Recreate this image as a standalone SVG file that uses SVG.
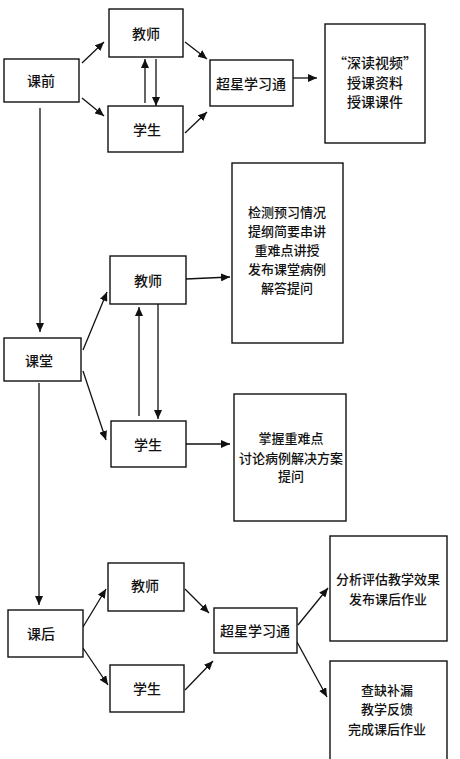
<svg xmlns="http://www.w3.org/2000/svg" width="460" height="759" viewBox="0 0 460 759">
<style>
.b{fill:#fff;stroke:#111;stroke-width:1.4}
.t{font-family:"Noto Sans CJK SC","Noto Sans",sans-serif;font-size:14px;font-weight:500;fill:#111;text-anchor:middle;dominant-baseline:central}
.s{font-size:13px}
.c{stroke:#111;stroke-width:1.3;fill:none}
</style>
<defs>
<marker id="a" markerUnits="userSpaceOnUse" markerWidth="10" markerHeight="8" refX="9" refY="4" orient="auto">
<path d="M0,0 L9,4 L0,8 Z" fill="#111"/>
</marker>
</defs>
<rect width="460" height="759" fill="#fff"/>
<g id="connectors">
<line class="c" x1="82" y1="63" x2="104" y2="42" marker-end="url(#a)"/>
<line class="c" x1="82" y1="98" x2="104" y2="116" marker-end="url(#a)"/>
<line class="c" x1="185" y1="42" x2="207" y2="59" marker-end="url(#a)"/>
<line class="c" x1="185" y1="133" x2="207" y2="112" marker-end="url(#a)"/>
<line class="c" x1="145" y1="103" x2="145" y2="59" marker-end="url(#a)"/>
<line class="c" x1="156" y1="59" x2="156" y2="106" marker-end="url(#a)"/>
<line class="c" x1="293" y1="78" x2="317" y2="78" marker-end="url(#a)"/>
<line class="c" x1="40" y1="108" x2="40" y2="332" marker-end="url(#a)"/>
<line class="c" x1="83" y1="350" x2="107" y2="292" marker-end="url(#a)"/>
<line class="c" x1="83" y1="371" x2="106" y2="440" marker-end="url(#a)"/>
<line class="c" x1="186" y1="279" x2="230" y2="277" marker-end="url(#a)"/>
<line class="c" x1="139" y1="416" x2="139" y2="307" marker-end="url(#a)"/>
<line class="c" x1="158" y1="304" x2="158" y2="419" marker-end="url(#a)"/>
<line class="c" x1="186" y1="444" x2="230" y2="444" marker-end="url(#a)"/>
<line class="c" x1="39" y1="383" x2="39" y2="605" marker-end="url(#a)"/>
<line class="c" x1="83" y1="627" x2="106" y2="589" marker-end="url(#a)"/>
<line class="c" x1="83" y1="648" x2="108" y2="685" marker-end="url(#a)"/>
<line class="c" x1="185" y1="589" x2="209" y2="613" marker-end="url(#a)"/>
<line class="c" x1="185" y1="690" x2="213" y2="661" marker-end="url(#a)"/>
<line class="c" x1="298" y1="625" x2="328" y2="588" marker-end="url(#a)"/>
<line class="c" x1="297" y1="642" x2="327" y2="697" marker-end="url(#a)"/>
</g>
<g id="kq"><rect class="b" x="4" y="59" width="75" height="43"/><text class="t" x="41" y="80">课前</text></g>
<g id="kq-js"><rect class="b" x="109" y="9" width="74" height="48"/><text class="t" x="146" y="33">教师</text></g>
<g id="kq-xs"><rect class="b" x="108" y="106" width="75" height="46"/><text class="t" x="147" y="129">学生</text></g>
<g id="kq-cx"><rect class="b" x="210" y="60" width="83" height="46"/><text class="t" x="251" y="83">超星学习通</text></g>
<g id="kq-out"><rect class="b" x="325" y="24" width="100" height="119"/>
<text class="t" x="375" y="62">“深读视频”</text><text class="t" x="375" y="82">授课资料</text><text class="t" x="375" y="101">授课课件</text></g>
<g id="kt"><rect class="b" x="4" y="338" width="77" height="43"/><text class="t" x="39" y="360">课堂</text></g>
<g id="kt-js"><rect class="b" x="110" y="256" width="76" height="48"/><text class="t" x="148" y="280">教师</text></g>
<g id="kt-xs"><rect class="b" x="111" y="421" width="75" height="46"/><text class="t" x="148" y="444">学生</text></g>
<g id="kt-jsout"><rect class="b" x="232" y="163" width="111" height="180"/>
<text class="t s" x="287" y="211">检测预习情况</text><text class="t s" x="287" y="230">提纲简要串讲</text><text class="t s" x="287" y="249">重难点讲授</text><text class="t s" x="287" y="268">发布课堂病例</text><text class="t s" x="287" y="287">解答提问</text></g>
<g id="kt-xsout"><rect class="b" x="234" y="394" width="112" height="127"/>
<text class="t s" x="291" y="437">掌握重难点</text><text class="t s" x="291" y="457">讨论病例解决方案</text><text class="t s" x="291" y="475">提问</text></g>
<g id="kh"><rect class="b" x="8" y="610" width="75" height="47"/><text class="t" x="41" y="633">课后</text></g>
<g id="kh-js"><rect class="b" x="108" y="563" width="76" height="48"/><text class="t" x="145" y="585">教师</text></g>
<g id="kh-xs"><rect class="b" x="110" y="665" width="74" height="47"/><text class="t" x="147" y="688">学生</text></g>
<g id="kh-cx"><rect class="b" x="214" y="608" width="83" height="45"/><text class="t" x="255" y="630">超星学习通</text></g>
<g id="kh-out1"><rect class="b" x="330" y="536" width="117" height="105"/>
<text class="t s" x="388" y="578">分析评估教学效果</text><text class="t s" x="388" y="598">发布课后作业</text></g>
<g id="kh-out2"><rect class="b" x="330" y="661" width="117" height="100"/>
<text class="t s" x="387" y="689">查缺补漏</text><text class="t s" x="387" y="708">教学反馈</text><text class="t s" x="387" y="728">完成课后作业</text></g>
</svg>
